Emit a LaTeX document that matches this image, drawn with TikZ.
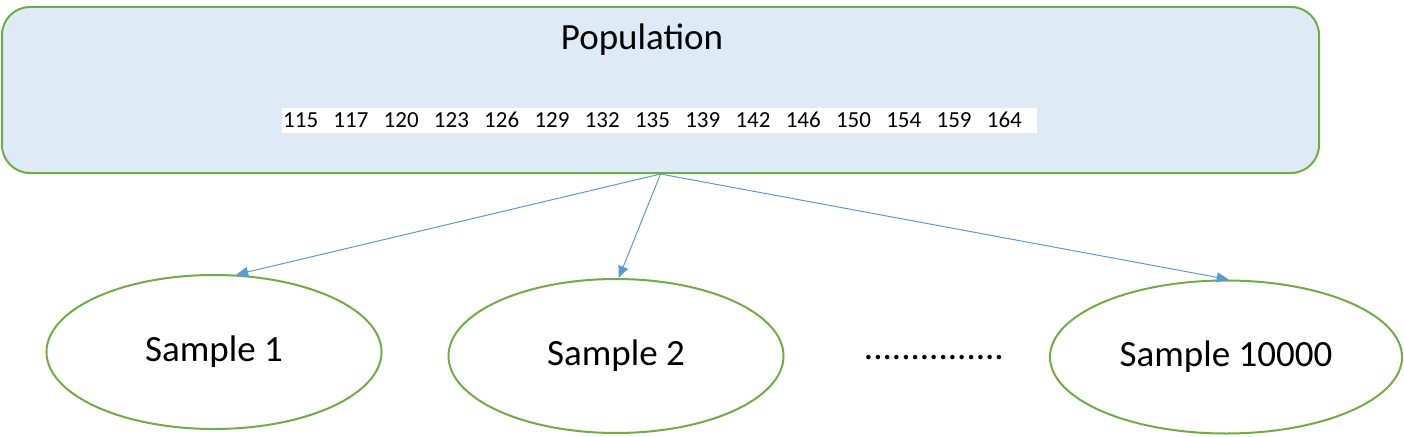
\documentclass[tikz,border=0pt]{standalone}
\usepackage{fontspec}
\setmainfont{Carlito}
\usetikzlibrary{arrows.meta}
\usetikzlibrary{shapes.geometric}
\definecolor{popfill}{HTML}{DEEBF7}
\definecolor{popline}{HTML}{70AD47}
\definecolor{arrline}{HTML}{5B9BD5}

\begin{document}
\begin{tikzpicture}[x=1pt,y=-1pt]
   \tikzstyle{Pop} = [draw=popline,line width=2pt,fill=popfill,
     rounded corners=28pt,minimum width=1317pt,minimum height=166pt,
     inner sep=0pt]
   \tikzstyle{Smp} = [draw=popline,line width=2pt,ellipse,
     minimum width=335pt,minimum height=154pt,
     font=\fontsize{37}{44}\selectfont]
   \tikzstyle{Arr} = [draw=arrline,line width=1pt,
     -{Triangle[length=12pt,width=10pt]}]
   \useasboundingbox (0,0) rectangle (1404,436);
    %%
    \node [Pop] (pop) at (660.5,90) {};
    \node [anchor=base,font=\fontsize{37}{44}\selectfont] (title)
      at (642,50) {Population};
    \node [fill=white,minimum width=755pt,minimum height=25pt,
      inner sep=0pt,anchor=north west] (strip) at (282,107.3) {};
    \foreach \v [count=\k from 0] in
      {115,117,120,123,126,129,132,135,139,142,146,150,154,159,164}
      \node [anchor=base west,inner sep=0pt,
        font=\fontsize{23}{28}\selectfont] (n\k)
        at (283+50.26*\k,127.7) {\v};
    %%
    \node [Smp] (s1) at (214,352) {Sample 1};
    \node [Smp] (s2) at (616,356) {Sample 2};
    \node [Smp,minimum width=352pt,minimum height=153pt] (s3)
      at (1226,357) {Sample 10000};
    \node [anchor=base,font=\fontsize{37}{44}\selectfont] (dots)
      at (934,359) {...............};
    %%
    \path [Arr] (pop.south) -- (s1.74);
    \path [Arr] (pop.south) -- (s2.88);
    \path [Arr] (pop.south) -- (s3.88);
  \end{tikzpicture}
\end{document}
